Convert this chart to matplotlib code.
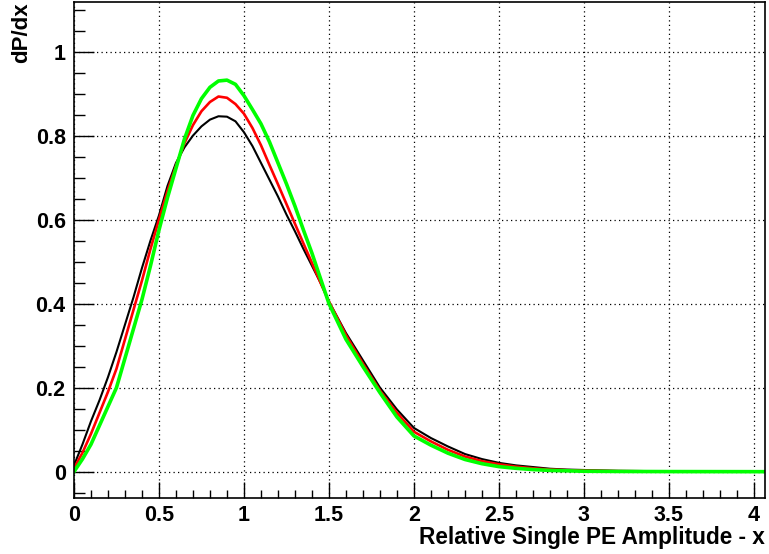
import matplotlib
matplotlib.use("Agg")
import matplotlib.pyplot as plt
from matplotlib.ticker import MultipleLocator, FixedLocator

x_vals = [0.0, 0.05, 0.1, 0.15, 0.2, 0.25, 0.3, 0.35, 0.4, 0.45, 0.5, 0.55, 0.6, 0.65,
          0.7, 0.75, 0.8, 0.85, 0.9, 0.95, 1.0, 1.05, 1.1, 1.15, 1.2, 1.25, 1.3, 1.35,
          1.4, 1.45, 1.5, 1.6, 1.7, 1.8, 1.9, 2.0, 2.1, 2.2, 2.3, 2.4, 2.5, 2.6, 2.7,
          2.8, 2.9, 3.0, 3.2, 3.5, 4.0, 4.065]

black_vals = [0.015, 0.065, 0.12, 0.17, 0.225, 0.285, 0.35, 0.415, 0.485, 0.55, 0.61, 0.68,
              0.735, 0.772, 0.80, 0.822, 0.838, 0.846, 0.845, 0.834, 0.808, 0.775, 0.735,
              0.695, 0.655, 0.612, 0.572, 0.53, 0.49, 0.45, 0.405, 0.33, 0.265, 0.2, 0.148,
              0.104, 0.08, 0.06, 0.042, 0.03, 0.021, 0.015, 0.011, 0.007, 0.005, 0.004,
              0.002, 0.001, 0.0003, 0.0003]

red_vals = [0.008, 0.045, 0.09, 0.14, 0.19, 0.245, 0.315, 0.385, 0.455, 0.53, 0.60, 0.668,
            0.728, 0.782, 0.825, 0.858, 0.88, 0.893, 0.89, 0.875, 0.852, 0.818, 0.777,
            0.73, 0.684, 0.637, 0.59, 0.543, 0.497, 0.45, 0.405, 0.325, 0.257, 0.193,
            0.14, 0.095, 0.072, 0.052, 0.036, 0.025, 0.0175, 0.012, 0.008, 0.005, 0.0035,
            0.0025, 0.0012, 0.0005, 0.0001, 0.0001]

green_vals = [0.0, 0.03, 0.065, 0.11, 0.155, 0.20, 0.27, 0.34, 0.41, 0.49, 0.575, 0.652,
              0.722, 0.792, 0.848, 0.888, 0.915, 0.93, 0.932, 0.922, 0.895, 0.862, 0.828,
              0.785, 0.735, 0.685, 0.632, 0.575, 0.52, 0.46, 0.40, 0.315, 0.25, 0.188,
              0.13, 0.085, 0.063, 0.044, 0.029, 0.019, 0.012, 0.008, 0.005, 0.003, 0.002,
              0.001, 0.0005, 0.0002, 0.0, 0.0]

x_ticks = [0, 0.5, 1, 1.5, 2, 2.5, 3, 3.5, 4]
x_tick_labels = ["0", "0.5", "1", "1.5", "2", "2.5", "3", "3.5", "4"]
y_ticks = [0, 0.2, 0.4, 0.6, 0.8, 1.0]
y_tick_labels = ["0", "0.2", "0.4", "0.6", "0.8", "1"]

plt.rcParams['font.family'] = ['Liberation Sans', 'DejaVu Sans']
plt.rcParams['font.weight'] = 'bold'

fig = plt.figure(figsize=(7.69, 5.54), dpi=100)
ax = fig.add_axes([0.0962, 0.1016, 0.8986, 0.8948])

ax.plot(x_vals, black_vals, color='black', lw=1.5, zorder=3)
ax.plot(x_vals, red_vals, color='#ff0000', lw=1.9, zorder=4)
ax.plot(x_vals, green_vals, color='#00ff00', lw=2.6, zorder=5)

ax.set_xlim(0, 4.065)
ax.set_ylim(-0.062, 1.118)

ax.xaxis.set_major_locator(FixedLocator(x_ticks))
ax.set_xticklabels(x_tick_labels)
ax.xaxis.set_minor_locator(MultipleLocator(0.1))
ax.yaxis.set_major_locator(FixedLocator(y_ticks))
ax.set_yticklabels(y_tick_labels)
ax.yaxis.set_minor_locator(MultipleLocator(0.05))

ax.grid(True, which='major', color='black', linestyle=(0, (1, 2.6)), lw=0.9)
ax.set_axisbelow(False)

ax.tick_params(axis='x', which='major', direction='in', length=11.5, width=1.0,
               labelsize=15.5, pad=5, top=False)
ax.tick_params(axis='x', which='minor', direction='in', length=5.5, width=1.0, top=False)
ax.tick_params(axis='y', which='major', direction='in', length=14.4, width=1.0,
               labelsize=15.5, pad=6, right=False)
ax.tick_params(axis='y', which='minor', direction='in', length=8, width=1.0, right=False)
for lab in ax.get_xticklabels() + ax.get_yticklabels():
    lab.set_fontweight('bold')

for sp in ax.spines.values():
    sp.set_linewidth(1.2)
    sp.set_zorder(6)

fig.text(0.9948, 0.03, "Relative Single PE Amplitude - x", ha='right', va='center',
         fontsize=16.3, fontweight='bold')
fig.text(0.028, 0.9964, "dP/dx", rotation=90, ha='center', va='top',
         fontsize=16, fontweight='bold')

fig.savefig("out.png", dpi=100)
